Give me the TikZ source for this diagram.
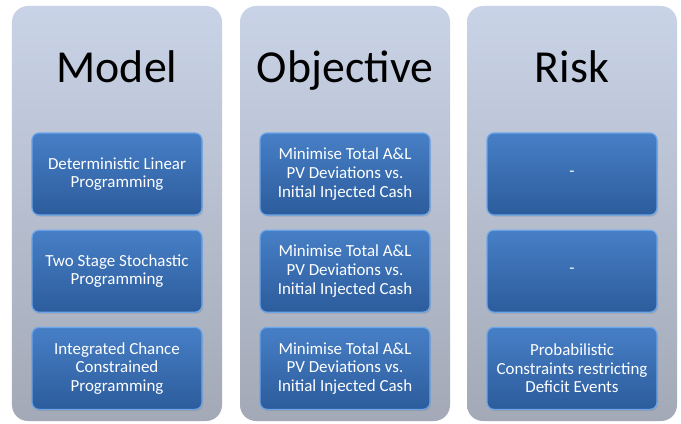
\documentclass[tikz,border=0pt]{standalone}
\usepackage{fontspec}
\setmainfont{Carlito}
\usetikzlibrary{positioning, shadows}

\definecolor{panelTop}{HTML}{C9D3E7}
\definecolor{panelMid}{HTML}{C2CADC}
\definecolor{panelBot}{HTML}{A3A9B6}
\definecolor{boxTop}{HTML}{477FC6}
\definecolor{boxBot}{HTML}{2C5C9C}
\definecolor{boxEdge}{HTML}{6CA6EA}

\tikzset{
  panel/.style={rounded corners=16bp, minimum width=210bp, minimum height=415bp,
    top color=panelTop, middle color=panelMid, bottom color=panelBot, inner sep=0pt},
  heading/.style={anchor=base, font=\fontsize{46}{46}\selectfont},
  stepbox/.style={rounded corners=7bp, minimum width=170bp, minimum height=82bp,
    top color=boxTop, bottom color=boxBot, draw=boxEdge, line width=1.2bp,
    text=white, align=center,
    font=\fontsize{17}{18.8}\selectfont,
    drop shadow={shadow xshift=1bp, shadow yshift=-1.5bp, opacity=0.35}},
}

\begin{document}
\begin{tikzpicture}[x=1bp,y=1bp]
\useasboundingbox (0,0) rectangle (681,423);

% Columns
\node[panel] (model) at (117,209.5) {};
\node[panel] (objective) at (345,209.5) {};
\node[panel] (risk) at (572,209.5) {};

% Headings
\node[heading] (modelT) at (117,341) {Model};
\node[heading] (objectiveT) at (345,341) {Objective};
\node[heading] (riskT) at (572,341) {Risk};

% Model boxes
\node[stepbox] (m1) at (117,249) {Deterministic Linear\\Programming};
\node[stepbox, below=14bp of m1] (m2) {Two Stage Stochastic\\Programming};
\node[stepbox, below=14bp of m2] (m3) {Integrated Chance\\Constrained\\Programming};

% Objective boxes, all three the same
\node[stepbox] (o1) at (345,249) {Minimise Total A\&L\\PV Deviations vs.\\Initial Injected Cash};
\foreach \i/\prev in {2/o1,3/o2}
  \node[stepbox, below=14bp of \prev] (o\i) {Minimise Total A\&L\\PV Deviations vs.\\Initial Injected Cash};

% Risk boxes
\node[stepbox] (r1) at (572,249) {-};
\node[stepbox, below=14bp of r1] (r2) {-};
\node[stepbox, below=14bp of r2] (r3) {Probabilistic\\Constraints restricting\\Deficit Events};
\end{tikzpicture}
\end{document}
